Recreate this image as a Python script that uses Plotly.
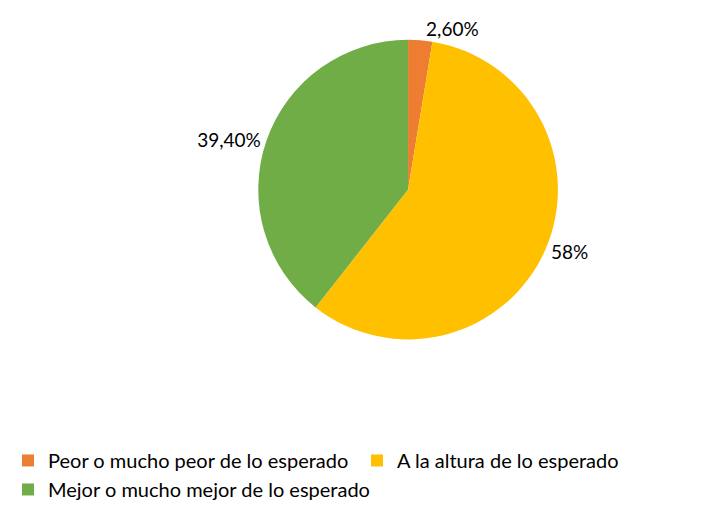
import plotly.graph_objects as go

labels = ["Peor o mucho peor de lo esperado", "A la altura de lo esperado", "Mejor o mucho mejor de lo esperado"]
values = [2.6, 58.0, 39.4]
text_labels = ["2,60%", "58%", "39,40%"]
colors = ["#ED7D31", "#FFC000", "#70AD47"]

fig = go.Figure(go.Pie(
    labels=labels,
    values=values,
    text=text_labels,
    textinfo="text",
    textposition="outside",
    sort=False,
    direction="clockwise",
    rotation=0,
    marker=dict(colors=colors, line=dict(width=0)),
    textfont=dict(size=19, color="#000000"),
    domain=dict(x=[0.355, 0.78], y=[0.21, 0.97]),
    hoverinfo="label+text",
))

fig.update_layout(
    width=705, height=507,
    margin=dict(l=0, r=0, t=18, b=90),
    paper_bgcolor="white",
    font=dict(family="Lato, Noto Sans, sans-serif", color="#000000"),
    showlegend=True,
    legend=dict(
        orientation="h", x=0.0, y=-0.04, xanchor="left", yanchor="top",
        font=dict(size=20, color="#000000"),
        itemwidth=30,
        entrywidth=304, entrywidthmode="pixels",
        tracegroupgap=0,
    ),
)

fig.write_html("out.html")
